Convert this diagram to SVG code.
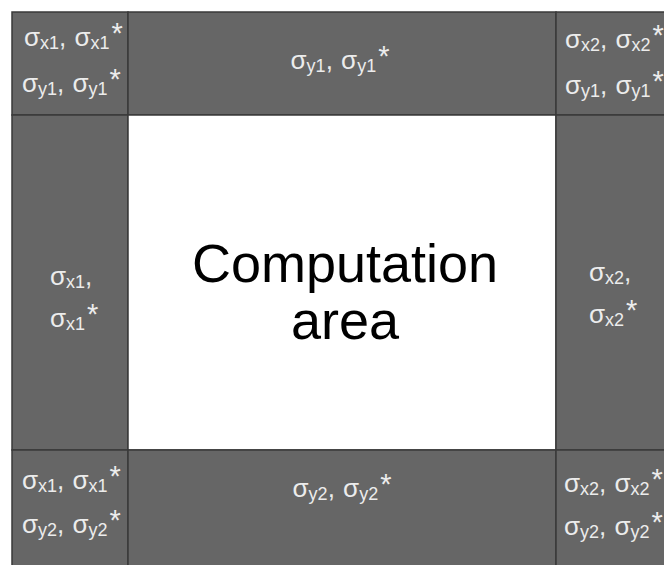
<svg xmlns="http://www.w3.org/2000/svg" width="664" height="565" viewBox="0 0 664 565">
<style>
.cell{fill:#666;stroke:#3a3a3a;stroke-width:1.5}
.center{fill:#fff;stroke:#3a3a3a;stroke-width:1.5}
.lbl{font-family:"Liberation Sans",Arial,sans-serif;font-size:26px;fill:#ececec}
.mid{text-anchor:middle}
.sub{font-size:18px}
.ast{font-size:29px}
.big{font-family:"Liberation Sans",Arial,sans-serif;font-size:54px;fill:#000;text-anchor:middle}
</style>
<rect width="664" height="565" fill="#fff"/>
<g id="top-left"><rect class="cell" x="12" y="12" width="116" height="103"/>
<text class="lbl" x="24" y="46">σ<tspan class="sub" dy="3">x1</tspan><tspan dy="-3">, </tspan><tspan dx="1">σ</tspan><tspan class="sub" dy="3">x1</tspan><tspan class="ast" dy="-6" dx="2">*</tspan></text>
<text class="lbl" x="22" y="92">σ<tspan class="sub" dy="3">y1</tspan><tspan dy="-3">, </tspan><tspan dx="1">σ</tspan><tspan class="sub" dy="3">y1</tspan><tspan class="ast" dy="-6" dx="2">*</tspan></text></g>
<g id="top"><rect class="cell" x="128" y="12" width="428" height="103"/>
<text class="lbl mid" x="340" y="69">σ<tspan class="sub" dy="3">y1</tspan><tspan dy="-3">, </tspan><tspan dx="1">σ</tspan><tspan class="sub" dy="3">y1</tspan><tspan class="ast" dy="-6" dx="2">*</tspan></text></g>
<g id="top-right"><rect class="cell" x="556" y="12" width="120" height="103"/>
<text class="lbl" x="565" y="48">σ<tspan class="sub" dy="3">x2</tspan><tspan dy="-3">, </tspan><tspan dx="1">σ</tspan><tspan class="sub" dy="3">x2</tspan><tspan class="ast" dy="-6" dx="2">*</tspan></text>
<text class="lbl" x="565" y="94">σ<tspan class="sub" dy="3">y1</tspan><tspan dy="-3">, </tspan><tspan dx="1">σ</tspan><tspan class="sub" dy="3">y1</tspan><tspan class="ast" dy="-6" dx="2">*</tspan></text></g>
<g id="left"><rect class="cell" x="12" y="115" width="116" height="335"/>
<text class="lbl" x="50" y="285">σ<tspan class="sub" dy="3">x1</tspan><tspan dy="-3">,</tspan></text>
<text class="lbl" x="50" y="327">σ<tspan class="sub" dy="3">x1</tspan><tspan class="ast" dy="-6" dx="2">*</tspan></text></g>
<g id="computation-area"><rect class="center" x="128" y="115" width="428" height="335"/>
<text class="big" x="345" y="282">Computation</text>
<text class="big" x="345" y="339">area</text></g>
<g id="right"><rect class="cell" x="556" y="115" width="120" height="335"/>
<text class="lbl" x="589" y="281">σ<tspan class="sub" dy="3">x2</tspan><tspan dy="-3">,</tspan></text>
<text class="lbl" x="589" y="323">σ<tspan class="sub" dy="3">x2</tspan><tspan class="ast" dy="-6" dx="2">*</tspan></text></g>
<g id="bottom-left"><rect class="cell" x="12" y="450" width="116" height="130"/>
<text class="lbl" x="22" y="489">σ<tspan class="sub" dy="3">x1</tspan><tspan dy="-3">, </tspan><tspan dx="1">σ</tspan><tspan class="sub" dy="3">x1</tspan><tspan class="ast" dy="-6" dx="2">*</tspan></text>
<text class="lbl" x="22" y="533">σ<tspan class="sub" dy="3">y2</tspan><tspan dy="-3">, </tspan><tspan dx="1">σ</tspan><tspan class="sub" dy="3">y2</tspan><tspan class="ast" dy="-6" dx="2">*</tspan></text></g>
<g id="bottom"><rect class="cell" x="128" y="450" width="428" height="130"/>
<text class="lbl mid" x="342" y="497">σ<tspan class="sub" dy="3">y2</tspan><tspan dy="-3">, </tspan><tspan dx="1">σ</tspan><tspan class="sub" dy="3">y2</tspan><tspan class="ast" dy="-6" dx="2">*</tspan></text></g>
<g id="bottom-right"><rect class="cell" x="556" y="450" width="120" height="130"/>
<text class="lbl" x="564" y="492">σ<tspan class="sub" dy="3">x2</tspan><tspan dy="-3">, </tspan><tspan dx="1">σ</tspan><tspan class="sub" dy="3">x2</tspan><tspan class="ast" dy="-6" dx="2">*</tspan></text>
<text class="lbl" x="564" y="535">σ<tspan class="sub" dy="3">y2</tspan><tspan dy="-3">, </tspan><tspan dx="1">σ</tspan><tspan class="sub" dy="3">y2</tspan><tspan class="ast" dy="-6" dx="2">*</tspan></text></g>
<g id="connectors"/>
</svg>
